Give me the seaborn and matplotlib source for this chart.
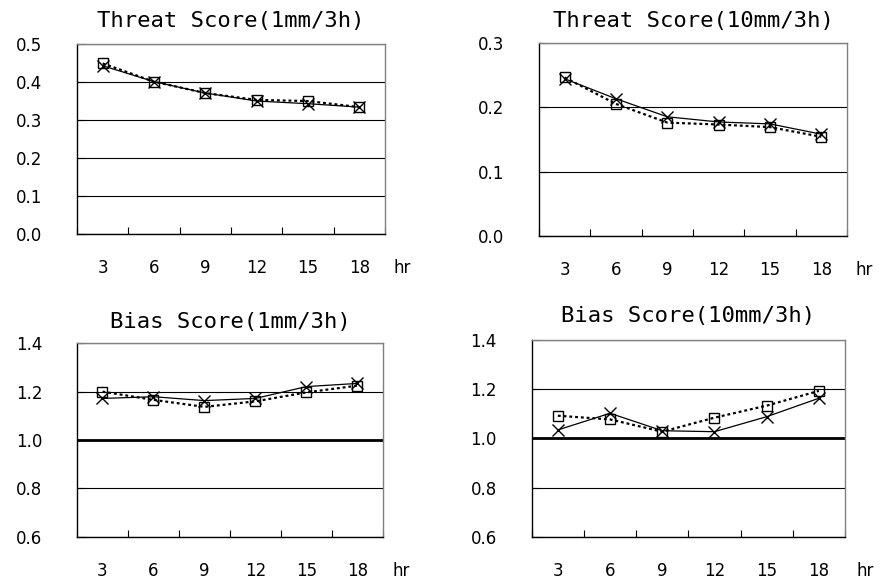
import numpy as np
import pandas as pd
import matplotlib
matplotlib.use("Agg")
import matplotlib.pyplot as plt
import seaborn as sns

hours = [3, 6, 9, 12, 15, 18]

ts1_sq = [0.449, 0.401, 0.371, 0.353, 0.350, 0.334]
ts1_x = [0.443, 0.401, 0.371, 0.350, 0.343, 0.334]
ts10_sq = [0.246, 0.205, 0.176, 0.173, 0.169, 0.154]
ts10_x = [0.244, 0.213, 0.185, 0.177, 0.174, 0.158]
bs1_sq = [1.200, 1.166, 1.137, 1.160, 1.197, 1.225]
bs1_x = [1.172, 1.179, 1.163, 1.172, 1.221, 1.234]
bs10_sq = [1.092, 1.077, 1.027, 1.084, 1.133, 1.193]
bs10_x = [1.034, 1.102, 1.031, 1.027, 1.088, 1.163]

titles = ["Threat Score(1mm/3h)", "Threat Score(10mm/3h)",
          "Bias Score(1mm/3h)", "Bias Score(10mm/3h)"]

sns.set_style("white")
plt.rcParams["font.family"] = ["DejaVu Sans"]
plt.rcParams["text.color"] = "black"
plt.rcParams["xtick.color"] = "black"
plt.rcParams["ytick.color"] = "black"
plt.rcParams["axes.labelcolor"] = "black"

fig = plt.figure(figsize=(8.81, 5.81), dpi=100)

panels = [
    dict(pos=[0.0874, 0.5972, 0.3496, 0.3270], sq=ts1_sq, x=ts1_x,
         ylim=(0.0, 0.5), yticks=[0.0, 0.1, 0.2, 0.3, 0.4, 0.5], ref=None, tpad=12, hrdx=6),
    dict(pos=[0.6118, 0.5938, 0.3496, 0.3327], sq=ts10_sq, x=ts10_x,
         ylim=(0.0, 0.3), yticks=[0.0, 0.1, 0.2, 0.3], ref=None, tpad=11, hrdx=6),
    dict(pos=[0.0874, 0.0763, 0.3473, 0.3328], sq=bs1_sq, x=bs1_x,
         ylim=(0.6, 1.4), yticks=[0.6, 0.8, 1.0, 1.2, 1.4], ref=1.0, tpad=11, hrdx=7),
    dict(pos=[0.6035, 0.0763, 0.3556, 0.3385], sq=bs10_sq, x=bs10_x,
         ylim=(0.6, 1.4), yticks=[0.6, 0.8, 1.0, 1.2, 1.4], ref=1.0, tpad=13, hrdx=8),
]

for p, title in zip(panels, titles):
    ax = fig.add_axes(p["pos"])
    df = pd.DataFrame({"hour": hours, "sq": p["sq"], "x": p["x"]})
    ax.set_ylim(*p["ylim"])
    ax.set_yticks(p["yticks"])
    ax.yaxis.grid(True, color="black", linewidth=0.8)
    ax.set_axisbelow(True)
    if p["ref"] is not None:
        ax.axhline(p["ref"], color="black", linewidth=2.0, zorder=1.5)

    sns.pointplot(data=df, x="hour", y="x", ax=ax, color="black", errorbar=None,
                  markers="x", linestyles="-", linewidth=0.9, markersize=8.5,
                  markeredgewidth=1.0)
    sns.pointplot(data=df, x="hour", y="sq", ax=ax, color="black", errorbar=None,
                  markers="s", linestyles=(0, (1.3, 1.3)), linewidth=1.6, markersize=7.5,
                  markeredgewidth=1.0, markerfacecolor="none")

    ax.set_xlim(-0.5, 5.5)
    ax.set_ylim(*p["ylim"])
    ax.set_xlabel("")
    ax.set_ylabel("")
    ax.set_yticklabels([f"{v:.1f}" for v in p["yticks"]])
    ax.set_xticks(range(len(hours)))
    ax.set_xticklabels([str(h) for h in hours])
    ax.set_xticks(np.arange(-0.5, len(hours), 1.0), minor=True)
    ax.tick_params(axis="x", which="major", length=0, pad=18, labelsize=12,
                   labelcolor="black")
    ax.tick_params(axis="x", which="minor", direction="in", length=5, width=0.8,
                   color="black", bottom=True)
    ax.tick_params(axis="y", which="major", direction="in", length=6, width=0.8,
                   color="black", left=True, pad=25, labelsize=12, labelcolor="black")

    for side in ["left", "bottom"]:
        ax.spines[side].set_color("black")
        ax.spines[side].set_linewidth(1.0)
    for side in ["top", "right"]:
        ax.spines[side].set_color("#808080")
        ax.spines[side].set_linewidth(1.0)

    ax.set_title(title, fontsize=16, family="DejaVu Sans Mono", pad=p["tpad"],
                 color="black")
    ax.annotate("hr", xy=(1, 0), xycoords="axes fraction",
                xytext=(p["hrdx"], -18), textcoords="offset points",
                ha="left", va="top", fontsize=12, color="black")

fig.savefig("out.png", dpi=100)
